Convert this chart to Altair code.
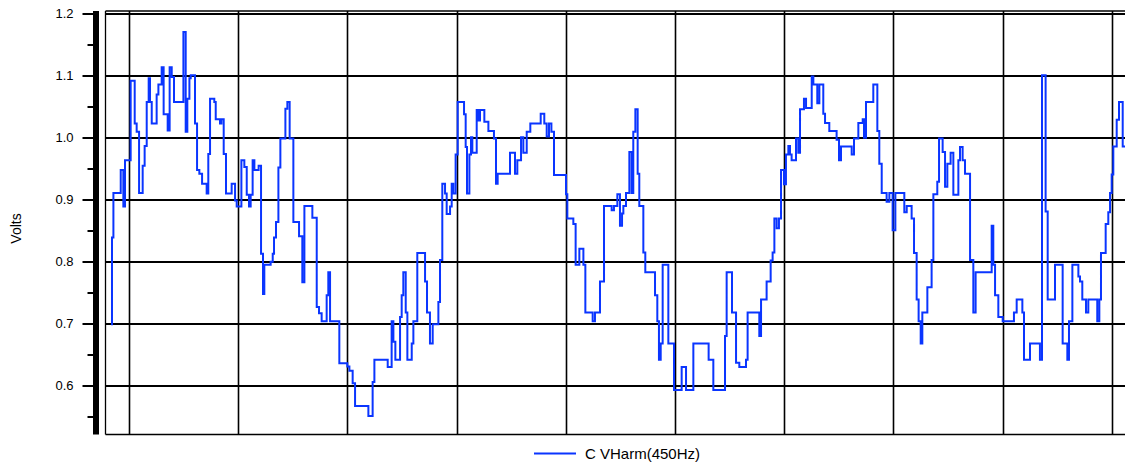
import altair as alt
import pandas as pd

# Time axis (one unit = one vertical grid division), step-after sample starts
t = [
    -0.165, -0.156, -0.143, -0.076, -0.052, -0.037, 0.015, 0.052, 0.070, 0.092,
    0.125, 0.143, 0.162, 0.180, 0.192, 0.208, 0.253, 0.269, 0.299, 0.317,
    0.354, 0.372, 0.391, 0.412, 0.498, 0.519, 0.534, 0.553, 0.565, 0.604,
    0.623, 0.644, 0.669, 0.711, 0.726, 0.742, 0.781, 0.794, 0.833, 0.846,
    0.867, 0.888, 0.940, 0.971, 0.986, 1.029, 1.056, 1.078, 1.099, 1.114,
    1.132, 1.148, 1.187, 1.209, 1.227, 1.239, 1.297, 1.316, 1.328, 1.346,
    1.368, 1.386, 1.432, 1.450, 1.471, 1.505, 1.557, 1.587, 1.606, 1.679,
    1.719, 1.740, 1.764, 1.810, 1.825, 1.841, 1.926, 1.999, 2.018,
    2.048, 2.070, 2.192, 2.231, 2.247, 2.369, 2.405, 2.421, 2.439, 2.482,
    2.497, 2.512, 2.534, 2.549, 2.589, 2.604, 2.640, 2.711, 2.729, 2.756,
    2.781, 2.833, 2.848, 2.869, 2.894, 2.909, 2.940, 2.955, 2.970, 2.991,
    3.010, 3.068, 3.083, 3.095, 3.117, 3.132, 3.144, 3.184, 3.196, 3.214,
    3.254, 3.291, 3.342, 3.361, 3.376, 3.489, 3.535, 3.556, 3.590, 3.611,
    3.642, 3.675, 3.770, 3.803, 3.825, 3.846, 3.868, 3.892, 4.002, 4.014,
    4.069, 4.090, 4.124, 4.161, 4.179, 4.246, 4.267, 4.313,
    4.350, 4.420, 4.441, 4.472, 4.496, 4.515, 4.527, 4.551, 4.582, 4.603,
    4.618, 4.637, 4.658, 4.673, 4.710, 4.728, 4.817, 4.838, 4.853, 4.869,
    4.887, 4.939, 4.991, 5.061, 5.101, 5.168, 5.308, 5.351, 5.458, 5.473,
    5.522, 5.559, 5.589, 5.650, 5.665, 5.772, 5.788, 5.839, 5.876, 5.894,
    5.910, 5.931, 5.952, 5.971, 5.998, 6.016, 6.038, 6.053, 6.068, 6.108,
    6.129, 6.145, 6.181, 6.200, 6.252, 6.267, 6.303, 6.322, 6.358, 6.374,
    6.413, 6.480, 6.502, 6.520, 6.618, 6.639, 6.679,
    6.719, 6.731, 6.749, 6.816, 6.853, 6.871, 6.893, 6.938, 6.963, 6.993,
    7.018, 7.100, 7.122, 7.167, 7.189, 7.213, 7.231, 7.250, 7.265, 7.311,
    7.350, 7.366, 7.402, 7.418, 7.451, 7.473, 7.494, 7.524, 7.549, 7.595,
    7.610, 7.634, 7.656, 7.702, 7.732, 7.753, 7.900, 7.915, 7.931, 7.961,
    8.001, 8.104, 8.129, 8.181, 8.196, 8.251, 8.342, 8.361, 8.394, 8.413,
    8.480, 8.550, 8.593, 8.608, 8.639, 8.694, 8.709, 8.730, 8.764, 8.785,
    8.867, 8.886, 8.901, 8.944, 8.968, 8.984, 8.999, 9.014, 9.045, 9.066,
    9.100, 9.136, 9.194,
]

volts = [
    0.698, 0.838, 0.910, 0.947, 0.888, 0.963, 1.091, 1.022, 1.009, 0.910,
    0.954, 0.986, 1.057, 1.095, 1.057, 1.022, 1.069, 1.085, 1.113, 1.037,
    1.011, 1.113, 1.097, 1.057, 1.170, 1.009, 1.062, 1.095, 1.100, 1.022,
    0.947, 0.941, 0.925, 0.909, 0.973, 1.062, 1.057, 1.029, 1.022, 1.029,
    0.973, 0.909, 0.925, 0.898, 0.888, 0.963, 0.952, 0.907, 0.888, 0.907,
    0.963, 0.947, 0.954, 0.812, 0.747, 0.794, 0.799, 0.812, 0.838, 0.863,
    0.951, 0.998, 1.046, 1.057, 0.998, 0.863, 0.840, 0.766, 0.889, 0.870,
    0.726, 0.716, 0.703, 0.745, 0.782, 0.703, 0.635, 0.630, 0.623,
    0.603, 0.566, 0.550, 0.605, 0.641, 0.629, 0.703, 0.670, 0.641, 0.710,
    0.745, 0.782, 0.717, 0.641, 0.667, 0.703, 0.813, 0.767, 0.717, 0.667,
    0.698, 0.734, 0.802, 0.925, 0.909, 0.876, 0.888, 0.925, 0.909, 0.972,
    1.057, 1.037, 0.984, 0.909, 0.972, 1.000, 0.975, 1.044, 1.027, 1.044,
    1.025, 1.010, 0.998, 0.925, 0.941, 0.975, 0.941, 0.963, 1.000, 0.975,
    1.009, 1.022, 1.038, 1.022, 1.001, 1.022, 1.009, 0.939, 0.908, 0.869,
    0.860, 0.794, 0.820, 0.794, 0.717, 0.703, 0.717, 0.767,
    0.889, 0.882, 0.889, 0.908, 0.857, 0.877, 0.889, 0.910, 0.976, 0.910,
    1.009, 1.045, 0.941, 0.889, 0.814, 0.782, 0.745, 0.703, 0.641, 0.667,
    0.794, 0.667, 0.592, 0.629, 0.592, 0.667, 0.641, 0.592, 0.679, 0.782,
    0.717, 0.636, 0.629, 0.641, 0.717, 0.679, 0.738, 0.767, 0.801, 0.814,
    0.869, 0.853, 0.869, 0.947, 0.924, 0.972, 0.986, 0.972, 0.963, 0.998,
    0.975, 1.045, 1.062, 1.047, 1.098, 1.085, 1.055, 1.085, 1.038, 1.023,
    1.010, 0.996, 0.963, 0.985, 0.972, 0.998, 1.023,
    1.029, 0.999, 1.057, 1.085, 1.010, 0.957, 0.910, 0.896, 0.910, 0.850,
    0.910, 0.879, 0.889, 0.869, 0.813, 0.738, 0.703, 0.667, 0.717, 0.758,
    0.802, 0.908, 0.928, 0.998, 0.976, 0.920, 0.957, 0.975, 0.907, 0.963,
    0.984, 0.963, 0.941, 0.802, 0.717, 0.782, 0.857, 0.794, 0.745, 0.710,
    0.703, 0.717, 0.738, 0.717, 0.641, 0.667, 0.641, 1.100, 0.880, 0.738,
    0.794, 0.667, 0.641, 0.703, 0.794, 0.775, 0.767, 0.738, 0.717, 0.738,
    0.703, 0.738, 0.813, 0.860, 0.879, 0.910, 0.940, 0.985, 1.028, 1.057,
    0.985, 0.957, 0.957,
]

series_name = "C VHarm(450Hz)"
x_min, x_max = -0.22, 9.121
y_min, y_max = 0.521, 1.2045
y_major = [0.6, 0.7, 0.8, 0.9, 1.0, 1.1, 1.2]
y_minor = [0.55, 0.65, 0.75, 0.85, 0.95, 1.05, 1.15]
x_grid = [0, 1, 2, 3, 4, 5, 6, 7, 8, 9]

df = pd.DataFrame({"t": t, "v": volts, "series": series_name})

FONT = "Liberation Sans"
major_test = "abs(datum.value * 10 - round(datum.value * 10)) < 0.001"
minor_test = "abs((datum.value * 20) % 2 - 1) < 0.05"
yframe_test = "datum.value < 0.53 || datum.value > 1.201"
xframe_test = "datum.value < -0.1"

chart = (
    alt.Chart(df)
    .mark_line(interpolate="step-after", strokeWidth=2, clip=True)
    .encode(
        x=alt.X(
            "t:Q",
            scale=alt.Scale(domain=[x_min, x_max], nice=False, zero=False),
            axis=alt.Axis(
                values=[x_min] + x_grid, labels=False, ticks=False, title=None,
                domain=True, domainColor="black", domainWidth=1.3,
                grid=True, gridColor="black", gridOpacity=1,
                gridWidth={"condition": {"test": xframe_test, "value": 1.3}, "value": 1.6},
            ),
        ),
        y=alt.Y(
            "v:Q",
            scale=alt.Scale(domain=[y_min, y_max], nice=False, zero=False),
            axis=alt.Axis(
                values=sorted(y_major + y_minor) + [y_max],
                labelExpr=major_test + " ? format(datum.value, '.1f') : ''",
                offset=9.5,
                domain=True, domainColor="black", domainWidth=6,
                ticks=True, tickColor="black", tickWidth=2,
                tickSize={"condition": {"test": minor_test, "value": 8.5}, "value": 13.5},
                tickOpacity={"condition": {"test": yframe_test, "value": 0}, "value": 1},
                labelFont=FONT, labelFontSize=13, labelColor="black", labelPadding=9,
                grid=True, gridColor="black",
                gridWidth={"condition": {"test": yframe_test, "value": 1.3}, "value": 2},
                gridOpacity={"condition": {"test": minor_test, "value": 0}, "value": 1},
                title="Volts", titleFont=FONT, titleFontSize=14, titleFontWeight="normal",
                titleColor="black", titleX=-79.5, titleY=217.5,
                titleBaseline="middle", titleAlign="center",
            ),
        ),
        color=alt.Color(
            "series:N",
            scale=alt.Scale(range=["#0a35ff"]),
            legend=alt.Legend(
                title=None, orient="none", legendX=428, legendY=421,
                symbolType="stroke", symbolSize=1764, symbolStrokeWidth=2,
                labelFont=FONT, labelFontSize=15, labelColor="black",
                labelOffset=8, padding=0,
            ),
        ),
    )
    .properties(
        width=1020,
        height=423.5,
        autosize=alt.AutoSizeParams(type="none"),
        padding={"left": 97, "top": 2.5, "right": 0, "bottom": 30},
        background="white",
    )
    .configure_view(strokeWidth=0)
)

chart.save("out.html", embed_options={"renderer": "svg", "actions": False})
